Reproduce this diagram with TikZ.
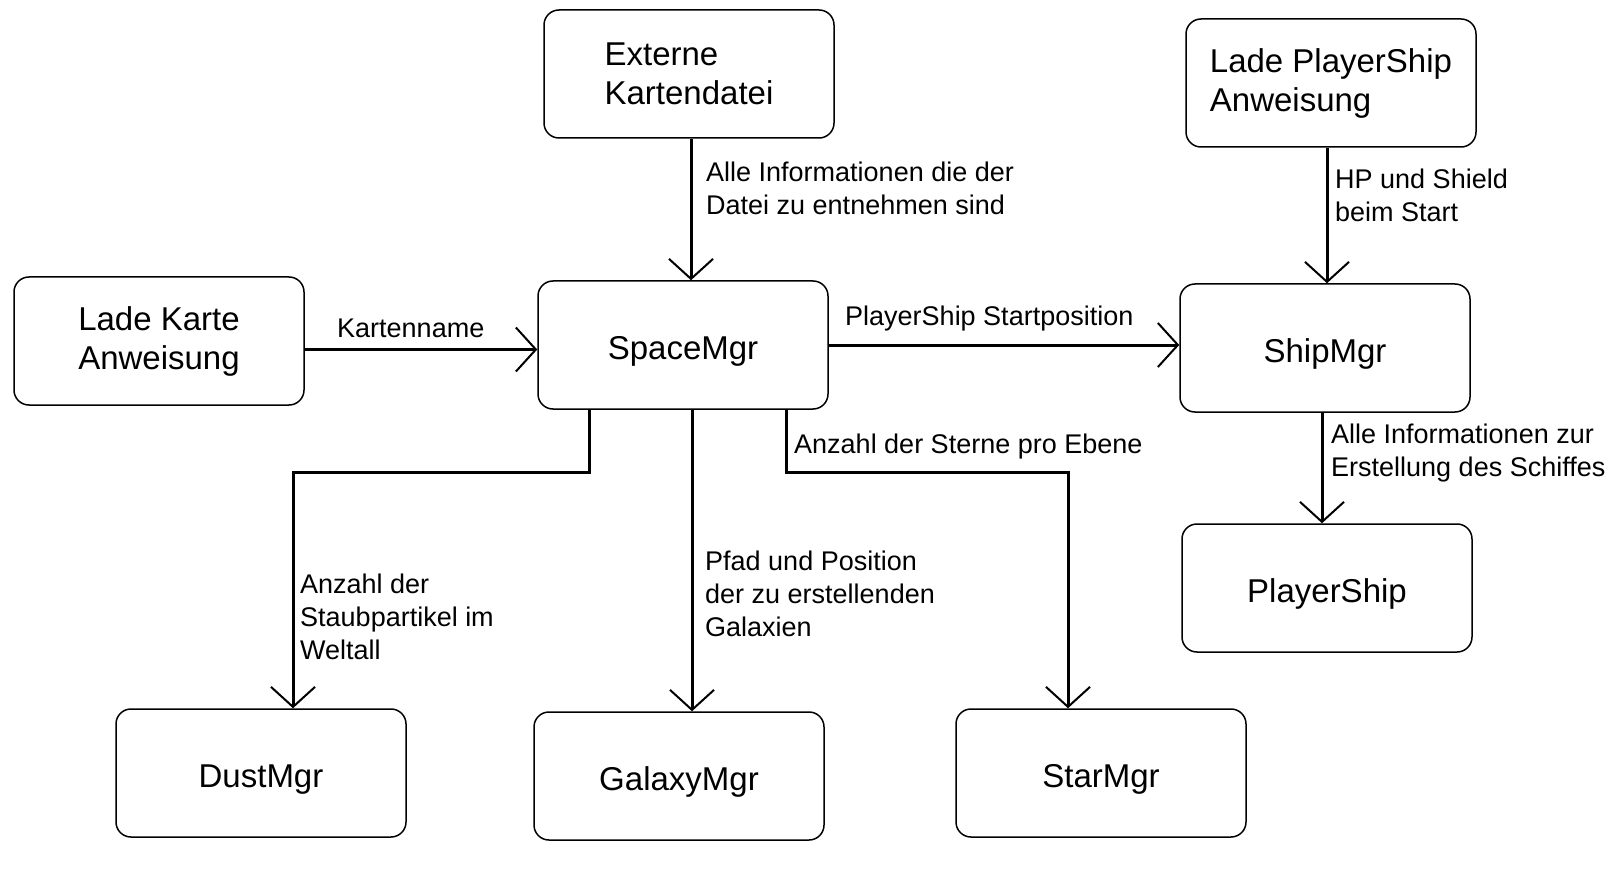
\documentclass[tikz,border=0pt]{standalone}
\usepackage{fontspec}
\setmainfont{Liberation Sans}
\usetikzlibrary{arrows.meta}
\begin{document}
\begin{tikzpicture}[x=1pt,y=-1pt,
  box/.style={draw=black,line width=1.5pt,rounded corners=15pt,minimum width=290pt,minimum height=128pt,inner sep=0pt,align=left,font=\fontsize{33}{39}\selectfont},
  boxone/.style={box,text height=36pt,text depth=7pt},
  arr/.style={line width=3pt,-{Straight Barb[length=20pt,width=44pt,line width=2pt]}},
  lbl/.style={anchor=north west,inner sep=0pt,align=left,font=\fontsize{27}{33}\selectfont}]
\useasboundingbox (0,0) rectangle (1619,877);
\node[box] (ext) at (689,74) {Externe\\Kartendatei};
\node[box] (lade) at (159,341) {Lade Karte\\Anweisung};
\node[boxone] (space) at (683,345) {SpaceMgr};
\node[box] (lps) at (1331,83) {Lade PlayerShip\\Anweisung};
\node[boxone] (ship) at (1325,348) {ShipMgr};
\node[boxone] (ps) at (1327,588) {PlayerShip};
\node[boxone] (dust) at (261,773) {DustMgr};
\node[boxone] (gal) at (679,776) {GalaxyMgr};
\node[boxone] (star) at (1101,773) {StarMgr};

\draw[arr] ([xshift=2pt]ext.south) -- ([xshift=2pt]ext.south |- space.north);
\draw[arr] ([yshift=-8.5pt]lade.east) -- ([yshift=-8.5pt]lade.east -| space.west);
\draw[arr] (space.east) -- (space.east -| ship.west);
\draw[arr] ([xshift=2pt]ship.north |- lps.south) -- ([xshift=2pt]ship.north);
\draw[arr] ([xshift=-3pt]ship.south) -- ([xshift=-3pt]ship.south |- ps.north);
\draw[arr] ([xshift=-94pt]space.south) -- ++(0,63) -| ([xshift=32pt]dust.north);
\draw[arr] ([xshift=9pt]space.south) -- ([xshift=9pt]space.south |- gal.north);
\draw[arr] ([xshift=103pt]space.south) -- ++(0,63) -| ([xshift=-33pt]star.north);

\node[lbl] (l1) at (706,162) {Alle Informationen die der\\Datei zu entnehmen sind};
\node[lbl] (l2) at (337,319) {Kartenname};
\node[lbl] (l3) at (845,306) {PlayerShip Startposition};
\node[lbl] (l4) at (1335,169) {HP und Shield\\beim Start};
\node[lbl] (l5) at (794,434) {Anzahl der Sterne pro Ebene};
\node[lbl] (l6) at (1331,424) {Alle Informationen zur\\Erstellung des Schiffes};
\node[lbl] (l7) at (300,574) {Anzahl der\\Staubpartikel im\\Weltall};
\node[lbl] (l8) at (705,551) {Pfad und Position\\der zu erstellenden\\Galaxien};
\end{tikzpicture}
\end{document}
